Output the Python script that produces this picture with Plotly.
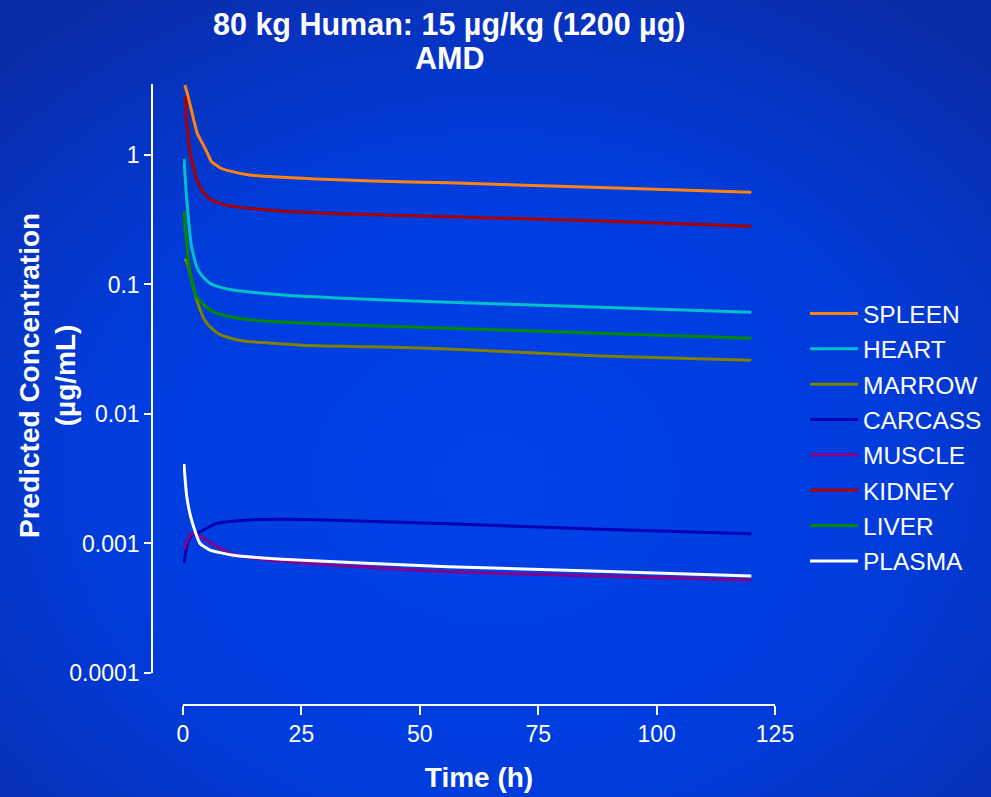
import base64
import plotly.graph_objects as go

# ---- data ----
spleen_t = [0.4, 1, 2, 3, 4, 5, 6, 8, 10, 14, 20, 28, 40, 56, 88, 120]
spleen_v = [3.47, 2.9, 2.05, 1.47, 1.25, 1.06, 0.89, 0.79, 0.75, 0.70, 0.675, 0.653, 0.63, 0.61, 0.56, 0.515]

heart_t = [0.2, 0.8, 1.8, 2.9, 4, 5.7, 8, 10.6, 21, 35, 56, 88, 120]
heart_v = [0.93, 0.45, 0.196, 0.137, 0.117, 0.102, 0.095, 0.0907, 0.083, 0.078, 0.0728, 0.0667, 0.061]

marrow_t = [0.3, 0.8, 2.9, 4.6, 6, 7.8, 12, 25, 40, 56, 88, 120]
marrow_v = [0.157, 0.15, 0.076, 0.053, 0.046, 0.041, 0.037, 0.034, 0.033, 0.0318, 0.028, 0.026]

carcass_t = [0.2, 1.1, 2, 3.6, 7.1, 14, 21, 35, 56, 88, 120]
carcass_v = [0.00071, 0.00106, 0.00117, 0.00123, 0.00143, 0.00152, 0.00154, 0.0015, 0.00142, 0.00129, 0.00119]

muscle_t = [0.2, 1.5, 2.5, 5, 9.2, 14, 28, 56, 88, 120]
muscle_v = [0.00089, 0.00116, 0.00119, 0.00106, 0.00086, 0.00078, 0.000695, 0.000605, 0.00056, 0.000523]

kidney_t = [0.5, 0.7, 1.1, 1.5, 2.2, 3, 3.6, 4.5, 6, 9, 18, 35, 56, 88, 120]
kidney_v = [2.82, 2.0, 1.38, 1.05, 0.81, 0.63, 0.57, 0.50, 0.45, 0.41, 0.376, 0.35, 0.334, 0.309, 0.281]

liver_t = [0.2, 1.1, 2.5, 4, 5.3, 7, 9.9, 15, 25, 40, 56, 88, 120]
liver_v = [0.371, 0.155, 0.0855, 0.072, 0.0655, 0.060, 0.0564, 0.053, 0.0504, 0.048, 0.046, 0.042, 0.0384]

plasma_t = [0.2, 0.8, 1.8, 3.6, 5.7, 10.6, 21, 56, 88, 120]
plasma_v = [0.00411, 0.0023, 0.00152, 0.001, 0.00089, 0.00081, 0.000755, 0.000662, 0.00061, 0.00056]

series_names = ["SPLEEN", "HEART", "MARROW", "CARCASS", "MUSCLE", "KIDNEY", "LIVER", "PLASMA"]
series_colors = ["#ff8210", "#00c0cc", "#808000", "#0000b4", "#86008a", "#aa0000", "#008a00", "#ffffff"]
series_t = [spleen_t, heart_t, marrow_t, carcass_t, muscle_t, kidney_t, liver_t, plasma_t]
series_v = [spleen_v, heart_v, marrow_v, carcass_v, muscle_v, kidney_v, liver_v, plasma_v]

y_tickvals = [0.0001, 0.001, 0.01, 0.1, 1]
y_ticktext = ["0.0001", "0.001", "0.01", "0.1", "1"]
x_tickvals = [0, 25, 50, 75, 100, 125]

title_line1 = "80 kg Human: 15 µg/kg (1200 µg)"
title_line2 = "AMD"

FONT = "Liberation Sans, Arial, sans-serif"
W, H = 991, 797
ML, MR, MT, MB = 150, 4, 80, 90
PW, PH = W - ML - MR, H - MT - MB


def py(ypix):
    return (H - MB - ypix) / PH


def px(xpix):
    return (xpix - ML) / PW


fig = go.Figure()
for name, col, t, v in zip(series_names, series_colors, series_t, series_v):
    fig.add_trace(go.Scatter(
        x=t, y=v, mode="lines", name=name, legendgroup=name,
        line=dict(color=col, width=3, shape="spline", smoothing=0.5),
    ))

svg = (
    '<svg xmlns="http://www.w3.org/2000/svg" width="991" height="797">'
    '<defs><radialGradient id="g" cx="50%" cy="60%" r="72%">'
    '<stop offset="0" stop-color="#0042ea"/>'
    '<stop offset="0.55" stop-color="#003cdc"/>'
    '<stop offset="1" stop-color="#0a2ca8"/>'
    '</radialGradient></defs>'
    '<rect width="991" height="797" fill="url(#g)"/></svg>'
)
bg_src = "data:image/svg+xml;base64," + base64.b64encode(svg.encode()).decode()

fig.update_layout(
    width=W, height=H, autosize=False,
    margin=dict(l=ML, r=MR, t=MT, b=MB, autoexpand=False),
    paper_bgcolor="#0338d0",
    plot_bgcolor="rgba(0,0,0,0)",
    font=dict(family=FONT, color="white", size=23),
    images=[dict(
        source=bg_src, xref="paper", yref="paper",
        x=-ML / PW, y=1 + MT / PH, sizex=W / PW, sizey=H / PH,
        xanchor="left", yanchor="top", sizing="stretch", layer="below",
    )],
    xaxis=dict(
        domain=[px(183), px(775)], range=[0, 125],
        anchor="free", position=py(705),
        showline=True, linecolor="white", linewidth=1.5,
        ticks="outside", ticklen=9, tickcolor="white", tickwidth=1.5,
        tickvals=x_tickvals, showgrid=False, zeroline=False,
        tickfont=dict(size=23, color="white"),
        title=dict(text="<b>Time (h)</b>", font=dict(size=28, color="white"), standoff=20),
    ),
    yaxis=dict(
        type="log", range=[-4, 0.548],
        domain=[py(673), py(84)],
        anchor="free", position=px(152),
        showline=True, linecolor="white", linewidth=1.5,
        ticks="outside", ticklen=7, tickcolor="white", tickwidth=1.5,
        tickvals=y_tickvals, ticktext=y_ticktext, showgrid=False, zeroline=False,
        tickfont=dict(size=23, color="white"),
    ),
    annotations=[
        dict(
            text="<b>Predicted Concentration<br>(µg/mL)</b>",
            xref="paper", yref="paper", x=px(47), y=py(376),
            xanchor="center", yanchor="middle", textangle=-90, showarrow=False,
            font=dict(size=28, color="white", family=FONT),
        ),
        dict(
            text="<b>" + title_line1 + "</b>",
            xref="paper", yref="paper", x=px(449), y=py(25),
            xanchor="center", yanchor="middle", showarrow=False,
            font=dict(size=30.5, color="white", family=FONT),
        ),
        dict(
            text="<b>" + title_line2 + "</b>",
            xref="paper", yref="paper", x=px(449), y=py(58),
            xanchor="center", yanchor="middle", showarrow=False,
            font=dict(size=30.5, color="white", family=FONT),
        ),
    ],
    legend=dict(
        x=px(805), xanchor="left",
        y=py(291), yanchor="top",
        bgcolor="rgba(0,0,0,0)", borderwidth=0,
        font=dict(size=24.5, color="white", family=FONT),
        tracegroupgap=0.5, itemwidth=48,
    ),
    showlegend=True,
)

post = (
    "document.documentElement.style.overflow='hidden';"
    "document.body.style.margin='0';document.body.style.overflow='hidden';"
)

fig.write_html(
    "out.html",
    config={"responsive": False, "displayModeBar": False},
    default_width="991px", default_height="797px",
    post_script=post,
)
